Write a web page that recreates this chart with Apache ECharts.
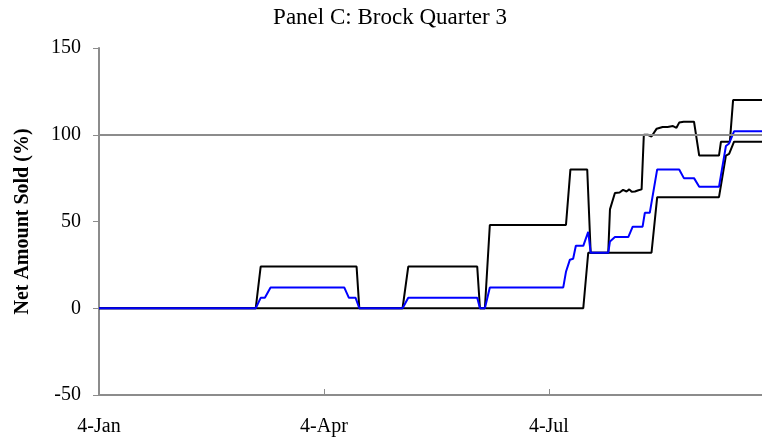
<!DOCTYPE html>
<html>
<head>
<meta charset="utf-8">
<title>Panel C: Brock Quarter 3</title>
<script src="https://cdn.jsdelivr.net/npm/echarts@6/dist/echarts.min.js"></script>
<style>
  html, body { margin: 0; padding: 0; background: #fff; }
  #main { width: 762px; height: 442px; }
</style>
</head>
<body>
<div id="main"></div>
<script type="text/javascript">
// days after 4-Jan
var xTickLabels = ['4-Jan', '4-Apr', '4-Jul'];
var yTicks = [-50, 0, 50, 100, 150];

var upperDays = [0, 63.4, 65.4, 104.2, 105.3, 122.8, 125.1, 153, 154.1, 156.1, 158.1, 188.9, 190.7, 197.5, 198.9,
    206, 206.7, 208.7, 210.6, 212, 213.4, 214.5, 215.5, 216.8, 218.2, 219.5, 220.4, 222, 223.5, 225.6, 228, 230,
    232.2, 233.6, 234.7, 236.5, 240.7, 242.8, 250.8, 251.6, 255.2, 256.5, 268.2];
var upperVals = [0, 0, 24, 24, 0, 0, 24, 24, 0, 0, 48, 48, 80, 80, 32,
    32, 57, 66.4, 66.7, 68.2, 67.3, 68.5, 67.1, 67.3, 68, 68.5, 100, 100, 99, 103.5, 104.5, 104.5,
    105, 104, 107, 107.5, 107.5, 88, 88, 96, 96, 120, 120];

var lowerDays = [0, 195.9, 197.9, 223.5, 225.8, 250.8, 253.6, 254.9, 256.9, 268.2];
var lowerVals = [0, 0, 32, 32, 64, 64, 88, 89, 96, 96];

var meanDays = [0, 63.4, 65.4, 67.1, 69.4, 99.2, 101.1, 103.8, 105.3, 122.8, 125.1, 153, 154.1, 156.1, 158.1,
    187.8, 188.9, 190.5, 191.8, 192.9, 195.9, 197.9, 198.9, 206, 206.7, 208.7, 214.1, 215.9, 219.9, 220.8, 222.8,
    225.8, 234.7, 236.6, 240.7, 242.8, 250.8, 253.6, 254.9, 256.9, 268.2];
var meanVals = [0, 0, 6, 6, 12, 12, 6, 6, 0, 0, 6, 6, 0, 0, 12,
    12, 21, 28, 28.5, 36, 36, 44, 32, 32, 38.5, 41, 41, 47, 47, 55, 55,
    80, 80, 75, 75, 70, 70, 93.5, 95, 102, 102];

var refLevel = 100;

function pairs(xs, ys) {
    var out = [];
    for (var i = 0; i < xs.length; i++) out.push([xs[i], ys[i]]);
    return out;
}

var serif = '"Liberation Serif", "DejaVu Serif", serif';
var myChart = echarts.init(document.getElementById('main'));

myChart.setOption({
    animation: false,
    title: {
        text: 'Panel C: Brock Quarter 3',
        left: 385,
        textAlign: 'center',
        top: 1,
        textStyle: { fontFamily: serif, fontSize: 23, fontWeight: 'normal', color: '#000' }
    },
    grid: { left: 99, right: 0, top: 48, bottom: 47, containLabel: false },
    xAxis: {
        type: 'value',
        min: 0,
        max: 268.2,
        interval: 91,
        axisLine: { show: true, onZero: false, lineStyle: { color: '#8c8c8c', width: 2 } },
        axisTick: { show: true, inside: true, length: 6, lineStyle: { color: '#8c8c8c', width: 1 } },
        splitLine: { show: false },
        axisLabel: {
            margin: 22,
            showMaxLabel: false,
            fontFamily: serif,
            fontSize: 20,
            color: '#000',
            formatter: function (v) {
                var i = Math.round(v / 91);
                return Math.abs(v - i * 91) < 0.01 && xTickLabels[i] ? xTickLabels[i] : '';
            }
        }
    },
    yAxis: {
        type: 'value',
        min: yTicks[0],
        max: yTicks[yTicks.length - 1],
        interval: 50,
        name: 'Net Amount Sold (%)',
        nameLocation: 'middle',
        nameGap: 66,
        nameTextStyle: { fontFamily: serif, fontSize: 20, fontWeight: 'bold', color: '#000' },
        axisLine: { show: true, lineStyle: { color: '#8c8c8c', width: 2 } },
        axisTick: { show: true, length: 6, lineStyle: { color: '#8c8c8c', width: 1 } },
        splitLine: { show: false },
        axisLabel: { margin: 18, fontFamily: serif, fontSize: 20, color: '#000' }
    },
    series: [
        {
            name: 'Lower',
            type: 'line',
            data: pairs(lowerDays, lowerVals),
            showSymbol: false,
            lineStyle: { color: '#000', width: 2 },
            markLine: {
                silent: true,
                symbol: 'none',
                label: { show: false },
                lineStyle: { color: '#8c8c8c', width: 2, type: 'solid' },
                data: [{ yAxis: refLevel }]
            },
            z: 1
        },
        {
            name: 'Upper',
            type: 'line',
            data: pairs(upperDays, upperVals),
            showSymbol: false,
            lineStyle: { color: '#000', width: 2 },
            z: 2
        },
        {
            name: 'Mean',
            type: 'line',
            data: pairs(meanDays, meanVals),
            showSymbol: false,
            lineStyle: { color: '#0000ff', width: 2 },
            z: 3
        }
    ]
});
</script>
</body>
</html>
